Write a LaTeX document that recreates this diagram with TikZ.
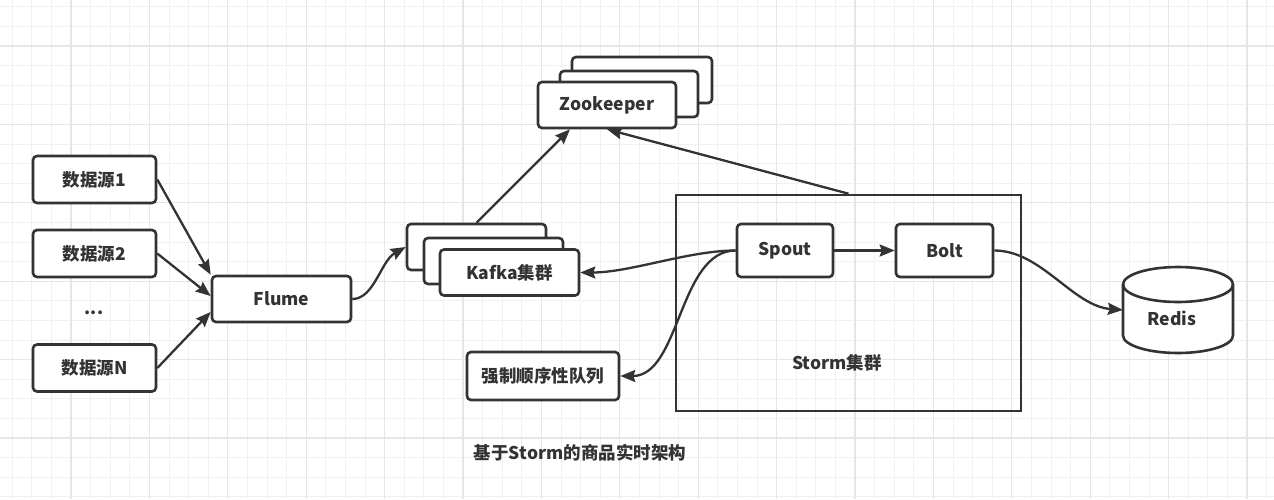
\documentclass[tikz,border=0pt]{standalone}
\usepackage{fontspec}
\setmainfont{Noto Sans CJK SC}
\usetikzlibrary{arrows.meta,calc}

\definecolor{linegray}{RGB}{51,51,51}
\definecolor{gridminor}{RGB}{241,241,241}
\definecolor{gridmajor}{RGB}{230,230,230}

\begin{document}
\begin{tikzpicture}[
    x=1pt, y=-1pt,
    box/.style={draw=linegray, line width=2.6pt, rounded corners=4pt, fill=white, text=linegray,
        font=\bfseries\fontsize{17.5}{20}\selectfont, minimum width=123pt, minimum height=47pt, inner sep=0pt},
    wide/.style={box, minimum width=139pt, minimum height=46pt},
    small/.style={box, minimum width=96pt, minimum height=53pt},
    plaintext/.style={text=linegray, font=\bfseries\fontsize{17.5}{20}\selectfont, inner sep=0pt},
    arrow/.style={-{Stealth[length=15pt,width=12pt,inset=2pt]}, line width=2.3pt, draw=linegray}
]

\useasboundingbox (0,0) rectangle (1274,499);

% grid
\fill[white] (0,0) rectangle (1274,499);
\foreach \i in {0,...,64}
    \draw[gridminor, line width=1pt] ({12.2+19.6*\i},0) -- ({12.2+19.6*\i},499);
\foreach \j in {0,...,25}
    \draw[gridminor, line width=1pt] (0,{6.8+19.6*\j}) -- (1274,{6.8+19.6*\j});
\foreach \i in {1,...,16}
    \draw[gridmajor, line width=1.2pt] ({-7.4+78.4*\i},0) -- ({-7.4+78.4*\i},499);
\foreach \j in {1,...,6}
    \draw[gridmajor, line width=1.2pt] (0,{-32.4+78.4*\j}) -- (1274,{-32.4+78.4*\j});

% data sources
\node[box] (src1) at (94.5,179.5) {数据源1};
\node[box] (src2) at (94.5,253.5) {数据源2};
\node[plaintext] (dots) at (94,313) {...};
\node[box] (srcn) at (94.5,368) {数据源N};

% flume
\node[wide] (flume) at (281.5,299) {Flume};

% kafka
\node[wide] (kback) at (476.5,247) {};
\node[wide] (kmid) at (493.5,261) {};
\node[wide] (kafka) at (509.5,272.5) {Kafka集群};

% zookeeper
\node[wide, minimum width=140pt] (zkback) at (642,80) {};
\node[wide, minimum width=138pt] (zkmid) at (629,94) {};
\node[wide, minimum width=138pt] (zk) at (607,105) {Zookeeper};

% storm
\node[draw=linegray, line width=2.6pt, minimum width=345pt, minimum height=216pt, inner sep=0pt] (storm) at (848.5,303) {};
\node[small] (spout) at (785,250.5) {Spout};
\node[small, minimum width=97pt] (bolt) at (944.5,250.5) {Bolt};
\node[plaintext] (stormlabel) at (837,363) {Storm集群};

% queue
\node[box, minimum width=152pt, minimum height=48pt] (queue) at (543,376) {强制顺序性队列};

% redis
\draw[linegray, line width=2.6pt, fill=white] (1123,284.5) -- (1123,335.5)
    arc[start angle=180, end angle=0, x radius=55, y radius=17.5] -- (1233,284.5)
    arc[start angle=0, end angle=-180, x radius=55, y radius=17.5] -- cycle;
\draw[linegray, line width=2.6pt] (1123,284.5) arc[start angle=180, end angle=0, x radius=55, y radius=17.5];
\node[minimum width=110pt, minimum height=86pt, inner sep=0pt] (redis) at (1178,310) {};
\node[plaintext] (redistext) at (1172,318) {Redis};

% title
\node[plaintext] (title) at (580,453) {基于Storm的商品实时架构};

% connectors
\draw[arrow] (src1.east) -- (flume.north west);
\draw[arrow] (src2.east) -- ($(flume.west)+(0,-3)$);
\draw[arrow] (srcn.east) -- ($(flume.west)+(0,13)$);
\draw[arrow] (flume.east) .. controls +(22,0) and +(-25,14) .. (kback.west);
\draw[arrow] (kback.north) -- ($(zk.south)+(-37,0)$);
\draw[arrow] (storm.north) -- (zk.south);
\draw[arrow] (spout.west) .. controls +(-47,0) and +(50,0) .. (kafka.east);
\draw[arrow] (spout.west) .. controls +(-57,0) and +(60,0) .. (queue.east);
\draw[arrow] (spout) -- (bolt);
\draw[arrow] (bolt.east) .. controls +(47,0) and +(-50,-4) .. (redis.west);

\end{tikzpicture}
\end{document}
